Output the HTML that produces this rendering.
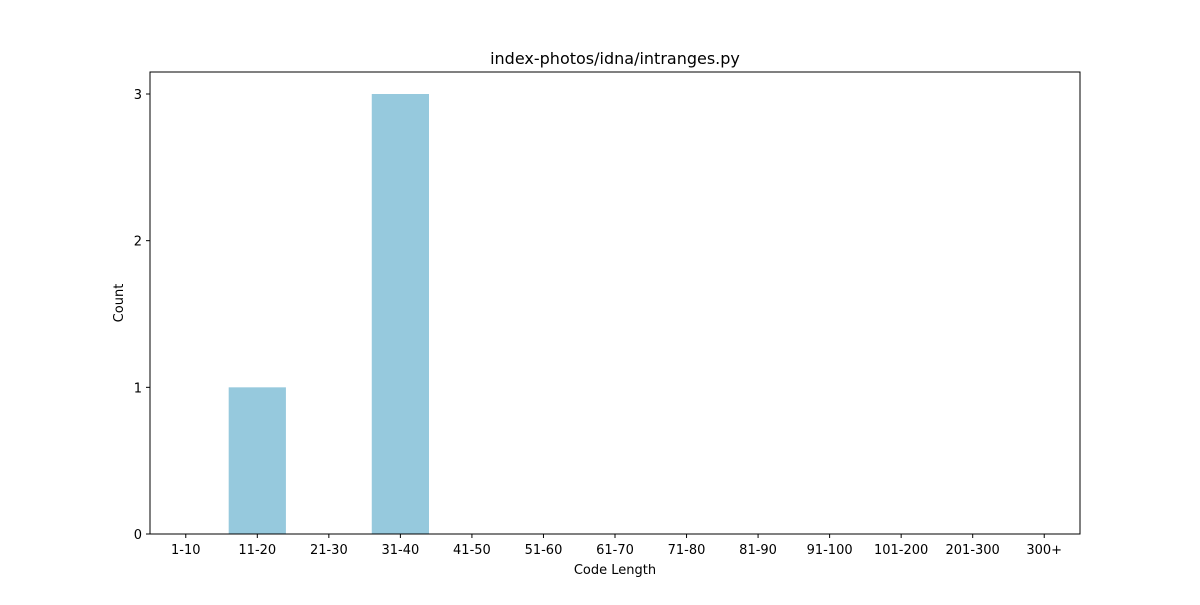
<!DOCTYPE html>
<html><head><meta charset="utf-8"><style>
html,body{margin:0;padding:0;background:#fff;}
svg text{font-family:"DejaVu Sans","Liberation Sans",sans-serif;}
</style></head><body>
<svg id="chart" width="1200" height="600" xmlns="http://www.w3.org/2000/svg">
<rect width="1200" height="600" fill="#fff"/>
<text x="615" y="64" font-size="16" text-anchor="middle">index-photos/idna/intranges.py</text>
<g id="bars"></g>
<g id="axes"></g>
<text x="615" y="574" font-size="13" text-anchor="middle">Code Length</text>
<text x="123" y="303" font-size="13" text-anchor="middle" transform="rotate(-90 123 303)">Count</text>
</svg>
<script>
const categories=["1-10","11-20","21-30","31-40","41-50","51-60","61-70","71-80","81-90","91-100","101-200","201-300","300+"];
const counts=[0,1,0,3,0,0,0,0,0,0,0,0,0];
const yTicks=[0,1,2,3];
const L=150,R=1080,T=72,B=534,yMax=3.15;
const ns="http://www.w3.org/2000/svg";
const step=(R-L)/categories.length;
function xs(i){return L+(i+0.5)*step;}
function ys(v){return B-(v/yMax)*(B-T);}
function mk(t,a,p){const e=document.createElementNS(ns,t);for(const k in a)e.setAttribute(k,a[k]);p.appendChild(e);return e;}
const bars=document.getElementById('bars'),axes=document.getElementById('axes');
const bw=step*0.8;
counts.forEach((v,i)=>{
 if(v<=0)return;
 const r=mk('rect',{x:xs(i)-bw/2,y:ys(v),width:bw,height:B-ys(v),fill:'#96c9dd'},bars);
 
 
});
const f=mk('rect',{x:L,y:T,width:R-L,height:B-T,fill:'none',stroke:'#000','stroke-width':1},axes);


categories.forEach((c,i)=>{
 mk('line',{x1:xs(i),x2:xs(i),y1:B,y2:B+4,stroke:'#000'},axes);
 const t=mk('text',{x:xs(i),y:B+20,'font-size':13,'text-anchor':'middle'},axes);
 t.textContent=c;
 
 
});
yTicks.forEach(v=>{
 mk('line',{x1:L-4,x2:L,y1:ys(v),y2:ys(v),stroke:'#000'},axes);
 const t=mk('text',{x:L-8,y:ys(v)+5,'font-size':13,'text-anchor':'end'},axes);
 t.textContent=v;
 
 
});
</script>
</body></html>
